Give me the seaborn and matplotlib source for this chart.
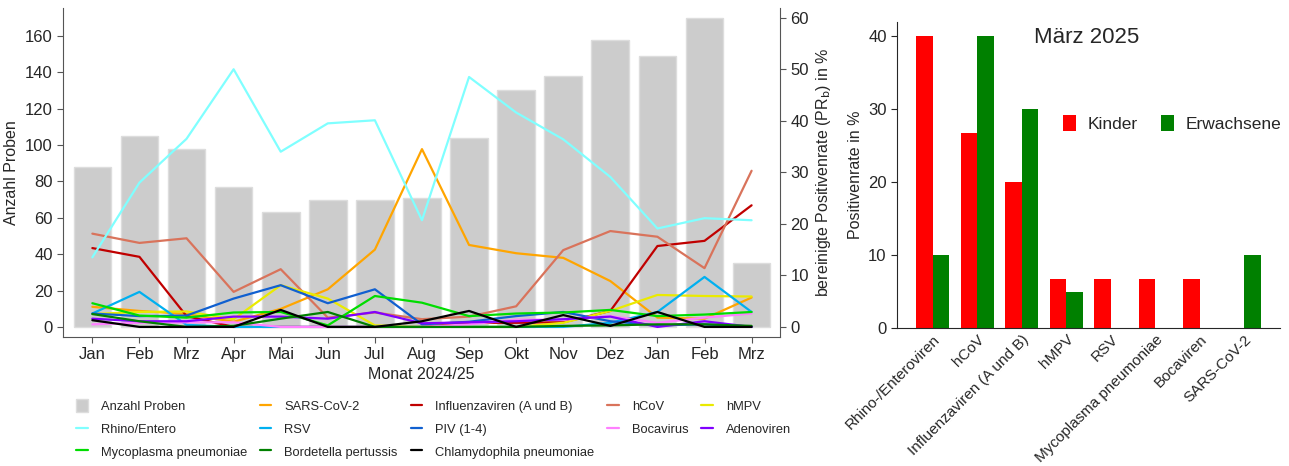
import numpy as np
import pandas as pd
import matplotlib
matplotlib.use("Agg")
import matplotlib.pyplot as plt
import seaborn as sns
from matplotlib.patches import Patch
from matplotlib.lines import Line2D

sns.set_style("ticks")
plt.rcParams["font.family"] = ["Liberation Sans", "DejaVu Sans"]

# Monatsverlauf
monate = ["Jan", "Feb", "Mrz", "Apr", "Mai", "Jun", "Jul", "Aug", "Sep", "Okt",
          "Nov", "Dez", "Jan", "Feb", "Mrz"]
proben = [88, 105, 98, 77, 63, 70, 70, 71, 104, 130, 138, 158, 149, 170, 35]

rhino = [13.5, 28.0, 36.5, 50.0, 34.0, 39.5, 40.1, 20.7, 48.5, 41.6, 36.4, 29.1, 19.1, 21.1, 20.7]
sars = [3.9, 3.1, 2.5, 1.0, 3.5, 7.3, 15.0, 34.5, 15.9, 14.3, 13.4, 8.9, 1.8, 1.6, 5.7]
influenza = [15.3, 13.6, 2.1, 0, 0, 0, 0, 0, 0.8, 0.8, 0.9, 3.1, 15.7, 16.7, 23.6]
hcov = [18.1, 16.3, 17.2, 6.8, 11.2, 1.8, 2.8, 1.5, 2.0, 4.0, 14.9, 18.6, 17.5, 11.4, 30.3]
hmpv = [2.5, 2.9, 3.0, 1.5, 8.1, 5.5, 0.3, 0, 0, 0, 0.8, 3.1, 6.2, 6.0, 5.9]
rsv = [2.6, 6.8, 0.4, 0, 0, 0, 0, 0, 0, 0, 0, 0.8, 2.9, 9.7, 2.9]
piv = [2.6, 2.1, 2.2, 5.5, 8.1, 4.6, 7.3, 0.5, 1.0, 2.1, 2.9, 1.1, 0.3, 0.5, 0]
boca = [0.5, 0.8, 0.9, 0.9, 0, 0, 0, 0, 0.5, 1.4, 1.4, 2.1, 0.8, 1.8, 2.6]
adeno = [1.6, 1.1, 1.1, 2.0, 2.0, 1.6, 2.9, 0.7, 0.9, 1.1, 1.5, 2.0, 0, 1.1, 0]
myco = [4.6, 2.2, 1.8, 2.8, 2.9, 0.3, 6.0, 4.7, 2.1, 2.6, 2.8, 3.3, 2.1, 2.4, 2.9]
borde = [2.5, 1.1, 0, 0.2, 1.6, 2.9, 0, 0, 0, 0, 0.2, 0.3, 0.5, 0.5, 0.2]
chlamy = [1.3, 0, 0, 0, 3.3, 0, 0, 1.1, 3.1, 0, 2.3, 0.2, 2.9, 0, 0]

# März 2025 nach Altersgruppe
erreger = ["Rhino-/Enteroviren", "hCoV", "Influenzaviren (A und B)", "hMPV", "RSV",
           "Mycoplasma pneumoniae", "Bocaviren", "SARS-CoV-2"]
kinder = [40, 26.7, 20, 6.7, 6.7, 6.7, 6.7, 0]
erwachsene = [10, 40, 30, 5, 0, 0, 0, 10]

serien = [
    ("SARS-CoV-2", sars, "#ffa500"),
    ("Influenzaviren (A und B)", influenza, "#c00000"),
    ("hCoV", hcov, "#d9735b"),
    ("hMPV", hmpv, "#eaea00"),
    ("Rhino/Entero", rhino, "#80ffff"),
    ("RSV", rsv, "#00b0f0"),
    ("PIV (1-4)", piv, "#1060d0"),
    ("Bocavirus", boca, "#ff80ff"),
    ("Adenoviren", adeno, "#8000ff"),
    ("Mycoplasma pneumoniae", myco, "#00dd00"),
    ("Bordetella pertussis", borde, "#008000"),
    ("Chlamydophila pneumoniae", chlamy, "#000000"),
]

fig = plt.figure(figsize=(12.89, 4.66), dpi=100)

# ---- linkes Diagramm ----
ax1 = fig.add_axes([0.049, 0.277, 0.556, 0.706])
idx = list(range(len(monate)))
sns.barplot(x=idx, y=proben, color="#cccccc", edgecolor="#dddddd", linewidth=1,
            width=0.8, saturation=1, ax=ax1)
ax1.set_ylim(-5.5, 175.4)
ax1.set_xlim(-0.62, 14.6)
ax1.set_yticks(range(0, 161, 20))
ax1.set_xticks(idx)
ax1.set_xticklabels(monate)
ax1.set_ylabel("Anzahl Proben", fontsize=11.5)
ax1.set_xlabel("Monat 2024/25", fontsize=11.5, labelpad=3)
ax1.tick_params(labelsize=12, color="#555555", length=4)
for s in ["left", "bottom"]:
    ax1.spines[s].set_color("#555555")
ax1.spines["top"].set_visible(False)
ax1.spines["right"].set_visible(False)

ax2 = ax1.twinx()
for name, vals, col in serien:
    sns.lineplot(x=idx, y=vals, color=col, linewidth=1.6, ax=ax2)
ax2.set_ylim(-1.94, 61.9)
ax2.set_yticks(range(0, 61, 10))
ax2.set_ylabel("bereinigte Positivenrate (PR$_\\mathrm{b}$) in %", fontsize=11.5)
ax2.tick_params(labelsize=12, color="#555555", length=4)
ax2.spines["right"].set_color("#555555")
ax2.spines["top"].set_visible(False)
ax2.spines["left"].set_visible(False)
ax2.spines["bottom"].set_visible(False)

farben = {n: c for n, v, c in serien}
reihenfolge = ["Anzahl Proben", "Rhino/Entero", "Mycoplasma pneumoniae",
               "SARS-CoV-2", "RSV", "Bordetella pertussis",
               "Influenzaviren (A und B)", "PIV (1-4)", "Chlamydophila pneumoniae",
               "hCoV", "Bocavirus",
               "hMPV", "Adenoviren"]
handles = []
for n in reihenfolge:
    if n == "Anzahl Proben":
        handles.append(Patch(facecolor="#cccccc", edgecolor="#dddddd"))
    else:
        handles.append(Line2D([0], [0], color=farben[n], linewidth=1.6))
fig.legend(handles, reihenfolge, ncol=5, loc="upper left", bbox_to_anchor=(0.05, 0.168),
           frameon=False, fontsize=9.3, handlelength=0.9, handleheight=1.1,
           columnspacing=1.0, labelspacing=0.72, handletextpad=1.0)

# ---- rechtes Diagramm ----
ax3 = fig.add_axes([0.696, 0.296, 0.297, 0.657])
df = pd.DataFrame({
    "Erreger": erreger * 2,
    "Wert": kinder + erwachsene,
    "Gruppe": ["Kinder"] * len(erreger) + ["Erwachsene"] * len(erreger),
})
sns.barplot(data=df, x="Erreger", y="Wert", hue="Gruppe",
            palette={"Kinder": "#ff0000", "Erwachsene": "#008000"},
            width=0.75, saturation=1, linewidth=0, ax=ax3)
ax3.set_ylim(0, 42)
ax3.set_xlim(-0.8, 7.8)
ax3.set_yticks(range(0, 41, 10))
ax3.set_xlabel("")
ax3.set_ylabel("Positivenrate in %", fontsize=11.5)
ax3.tick_params(labelsize=12, length=4)
ax3.tick_params(axis="x", length=0, pad=3, labelsize=11)
plt.setp(ax3.get_xticklabels(), rotation=45, ha="right", va="top", rotation_mode="anchor")
sns.despine(ax=ax3)
ax3.text(0.496, 0.948, "März 2025", transform=ax3.transAxes, fontsize=16,
         ha="center", va="center")
ax3.legend(ncol=2, loc="center right", bbox_to_anchor=(1.045, 0.667), frameon=False,
           fontsize=12.5, handlelength=0.75, handleheight=1.0, columnspacing=1.3,
           handletextpad=0.7)

fig.savefig("out.png", dpi=100)
